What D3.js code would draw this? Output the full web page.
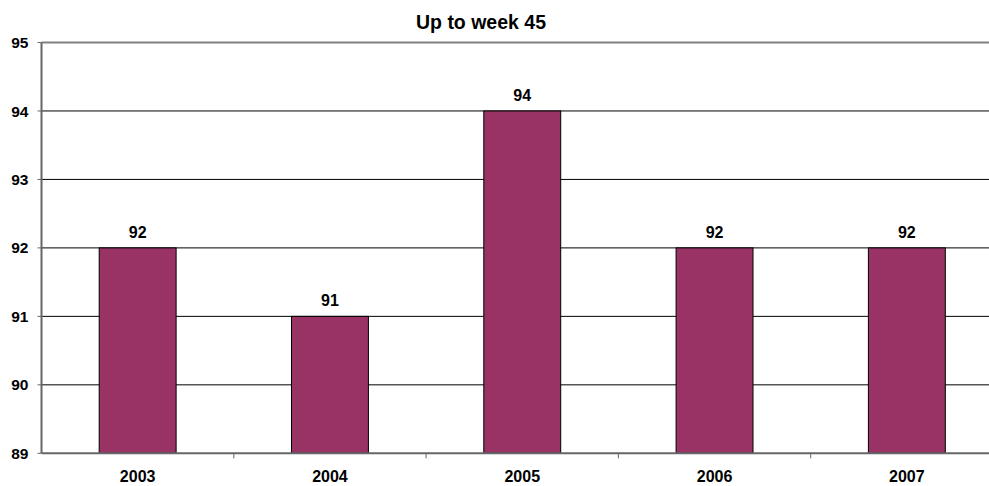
<!DOCTYPE html>
<html>
<head>
<meta charset="utf-8">
<script src="https://cdn.jsdelivr.net/npm/d3@7"></script>
<style>
html,body{margin:0;padding:0;background:#fff;overflow:hidden;}
svg{display:block;}
text{font-family:"Liberation Sans",Arial,sans-serif;font-weight:bold;fill:#000;}
</style>
</head>
<body>
<svg id="chart" width="989" height="486"></svg>
<script>
const categories = ["2003","2004","2005","2006","2007"];
const values = [92, 91, 94, 92, 92];
const yTicks = [89, 90, 91, 92, 93, 94, 95];
const title = "Up to week 45";

(function () {
const svg = d3.select("#chart");
const pLeft = 41.5, pRight = 1003, pTop = 42.5, pBottom = 453.3;

const x = d3.scaleBand().domain(categories).range([pLeft, pRight]).paddingInner(0.6).paddingOuter(0.3);
const y = d3.scaleLinear().domain([89, 95]).range([pBottom, pTop]);
const step = x.step();

svg.append("g").selectAll("line").data(yTicks.filter(t => t > 89 && t < 95)).join("line")
  .attr("x1", pLeft).attr("x2", pRight)
  .attr("y1", d => y(d)).attr("y2", d => y(d))
  .attr("stroke", "#000").attr("stroke-width", 1);

svg.append("line").attr("x1", pLeft).attr("x2", pRight).attr("y1", y(95)).attr("y2", y(95))
  .attr("stroke", "#808080").attr("stroke-width", 2);

svg.append("g").selectAll("rect").data(values).join("rect")
  .attr("x", (d, i) => x(categories[i]))
  .attr("width", x.bandwidth())
  .attr("y", d => y(d))
  .attr("height", d => y(89) - y(d))
  .attr("fill", "#993366")
  .attr("stroke", "#000").attr("stroke-width", 1);

svg.append("g").selectAll("text").data(values).join("text")
  .attr("x", (d, i) => x(categories[i]) + x.bandwidth() / 2)
  .attr("y", d => y(d) - 10)
  .attr("text-anchor", "middle")
  .attr("font-size", "16px")
  .text(d => d);

svg.append("line").attr("x1", pLeft).attr("x2", pLeft).attr("y1", pTop).attr("y2", pBottom)
  .attr("stroke", "#666").attr("stroke-width", 2);
svg.append("g").selectAll("line").data(yTicks).join("line")
  .attr("x1", pLeft - 4).attr("x2", pLeft)
  .attr("y1", d => y(d)).attr("y2", d => y(d))
  .attr("stroke", "#666").attr("stroke-width", 1);
svg.append("g").selectAll("text").data(yTicks).join("text")
  .attr("x", 28.5).attr("y", d => y(d))
  .attr("dy", "0.36em")
  .attr("text-anchor", "end")
  .attr("font-size", "15.5px")
  .text(d => d);

svg.append("line").attr("x1", pLeft).attr("x2", pRight).attr("y1", pBottom).attr("y2", pBottom)
  .attr("stroke", "#666").attr("stroke-width", 2);
svg.append("g").selectAll("line").data(categories.slice(1)).join("line")
  .attr("x1", d => x(d) - step * x.paddingInner() / 2)
  .attr("x2", d => x(d) - step * x.paddingInner() / 2)
  .attr("y1", pBottom).attr("y2", pBottom + 5)
  .attr("stroke", "#666").attr("stroke-width", 1);
svg.append("g").selectAll("text").data(categories).join("text")
  .attr("x", d => x(d) + x.bandwidth() / 2)
  .attr("y", 482)
  .attr("text-anchor", "middle")
  .attr("font-size", "16px")
  .text(d => d);

svg.append("text").attr("x", 481).attr("y", 29.3)
  .attr("text-anchor", "middle").attr("font-size", "19.5px")
  .text(title);
})();
</script>
</body>
</html>
